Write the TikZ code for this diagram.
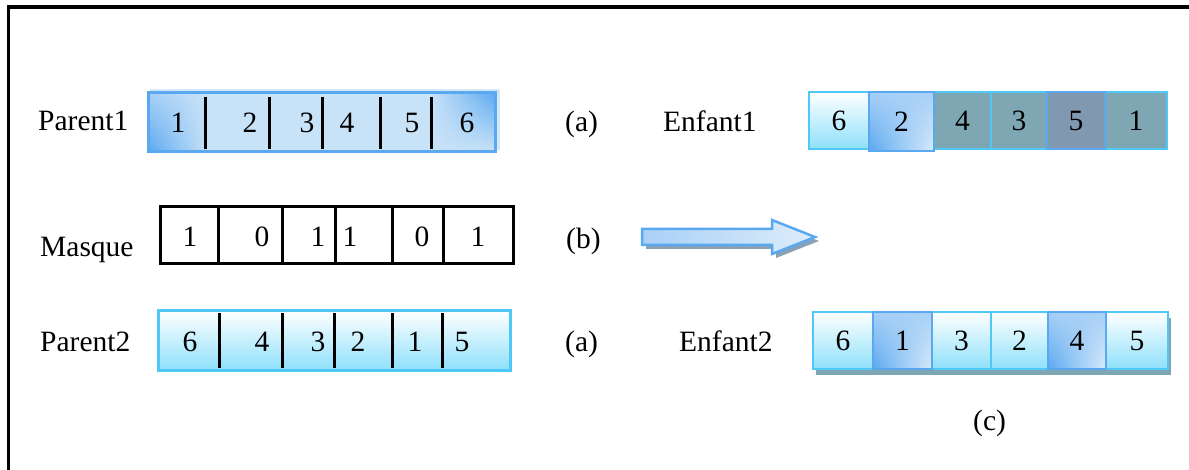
\documentclass[tikz,border=0pt]{standalone}
\usepackage{fontspec}
\setmainfont{Liberation Serif}
\usetikzlibrary{shadings}
\definecolor{cyanline}{HTML}{4FC8F8}
\definecolor{cyanfill}{HTML}{8EE0FB}
\definecolor{blueline}{HTML}{5AA8F0}
\definecolor{bluelight}{HTML}{C8E2F8}
\definecolor{bluemid}{HTML}{A8D0F6}
\definecolor{slate}{HTML}{7FA6B3}
\definecolor{slategrey}{HTML}{8098B0}
\definecolor{shadowgrey}{HTML}{8AA0B4}
\tikzset{
  txt/.style={font=\fontsize{29.5}{32}\selectfont, inner sep=0pt},
  lbl/.style={txt, anchor=base west},
  num/.style={txt, anchor=base},
  cell/.style={txt, minimum height=57pt, line width=2.5pt},
  cyancell/.style={cell, draw=cyanline, top color=white, bottom color=cyanfill},
  bluecell/.style={cell, draw=blueline, lower left=blueline, upper right=bluemid,
                   upper left=bluemid, lower right=bluelight!70!white},
  slatecell/.style={cell, draw=cyanline, fill=slate},
  greycell/.style={cell, draw=blueline, fill=slategrey},
  divider/.style={line width=3pt},
}
\begin{document}
\begin{tikzpicture}[x=1pt,y=-1pt]
\useasboundingbox (0,0) rectangle (1189,470);
% frame
\draw[line width=3.5pt] (8.5,470) -- (8.5,7) -- (1189,7);

% ---- Parent1 ----
\fill[bluelight!80!white] (150,89) rectangle (500,150);
\node[txt, minimum width=347pt, minimum height=59pt, fill=bluelight] (p1) at (322,122) {};
\shade[lower left=blueline, upper left=bluemid, upper right=bluelight, lower right=bluelight]
  (p1.south west) rectangle ([xshift=60pt]p1.north west);
\shade[upper right=blueline, upper left=bluelight, lower left=bluelight, lower right=bluelight]
  ([xshift=-65pt]p1.south east) rectangle (p1.north east);
\draw[draw=blueline, line width=3pt] (p1.south west) rectangle (p1.north east);
\foreach \x in {205,269,322,380,431} \draw[divider] (\x,97) -- (\x,149);
\node[lbl] (lp1) at (38,131) {Parent1};
\foreach \v/\x [count=\i] in {1/178,2/250,3/307,4/347,5/412,6/467}
  \node[num] (p1n\i) at (\x,133) {\v};

% ---- Masque ----
\node[txt, minimum width=353pt, minimum height=57pt, draw, line width=3pt] (mq) at (336.5,235.5) {};
\foreach \x in {218,282,335,392,443} \draw[divider] (\x,207) -- (\x,264);
\node[lbl] (lmq) at (40,257) {Masque};
\foreach \v/\x [count=\i] in {1/190,0/262,1/318,1/350,0/422,1/478}
  \node[num] (mqn\i) at (\x,247) {\v};

% ---- Parent2 ----
\node[txt, minimum width=352pt, minimum height=59pt, draw=cyanline, line width=3pt,
      top color=white, bottom color=cyanfill] (p2) at (334,340.5) {};
\foreach \x in {219,282,334,392,442} \draw[divider] (\x,313) -- (\x,368);
\node[lbl] (lp2) at (40,352) {Parent2};
\foreach \v/\x [count=\i] in {6/190,4/262,3/318,2/358,1/415,5/462}
  \node[num] (p2n\i) at (\x,352) {\v};

% ---- labels (a) (b) (c) ----
\node[lbl] (la1) at (565,132) {(a)};
\node[lbl] (lb) at (566,249) {(b)};
\node[lbl] (la2) at (565,352) {(a)};
\node[lbl] (lc) at (973,430) {(c)};
\node[lbl] (le1) at (663,132) {Enfant1};
\node[lbl] (le2) at (679,352) {Enfant2};

% ---- arrow ----
\fill[shadowgrey] (646,233) -- (776,233) -- (776,224) -- (819,241) -- (776,258) -- (776,249) -- (646,249) -- cycle;
\shade[left color=bluemid, right color=bluelight!60!white, draw=blueline, line width=2.5pt, line join=miter]
  (642,229) -- (772,229) -- (772,220) -- (815,237) -- (772,254) -- (772,245) -- (642,245) -- cycle;

% ---- Enfant1 ----
\node[cyancell, minimum width=60pt] (e1a) at (839,120.5) {6};
\node[slatecell, minimum width=57pt] (e1c) at (962.5,120.5) {4};
\node[slatecell, minimum width=56pt] (e1d) at (1019,120.5) {3};
\node[slatecell, minimum width=62pt] (e1f) at (1136,120.5) {1};
\node[bluecell, minimum width=65pt, minimum height=59pt] (e1b) at (901.5,121.5) {2};
\node[greycell, minimum width=58pt] (e1e) at (1076,120.5) {5};

% ---- Enfant2 ----
\fill[slate] (816,318) rectangle (1171,375);
\node[cyancell, minimum width=60pt] (e2a) at (843,340.5) {6};
\node[cyancell, minimum width=59pt] (e2c) at (961.5,340.5) {3};
\node[cyancell, minimum width=57pt] (e2d) at (1019.5,340.5) {2};
\node[cyancell, minimum width=62pt] (e2f) at (1137,340.5) {5};
\node[bluecell, minimum width=59pt] (e2b) at (902.5,340.5) {1};
\node[bluecell, minimum width=58pt] (e2e) at (1077,340.5) {4};
\end{tikzpicture}
\end{document}
